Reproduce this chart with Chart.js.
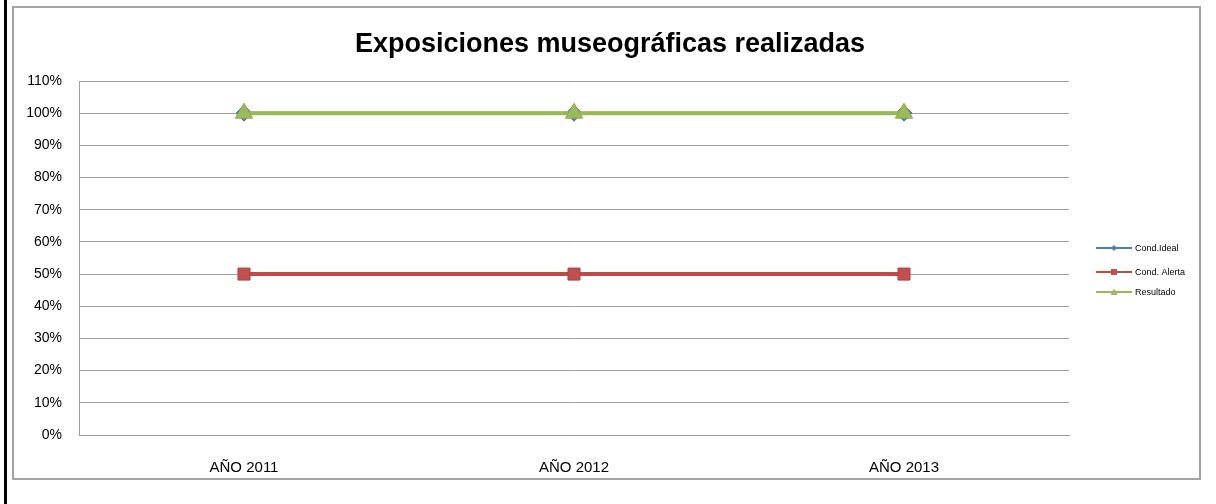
<!DOCTYPE html>
<html>
<head>
<meta charset="utf-8">
<script src="https://cdn.jsdelivr.net/npm/chart.js@4/dist/chart.umd.min.js"></script>
<style>
  html, body { margin: 0; padding: 0; background: #fff; }
  body { width: 1216px; height: 504px; position: relative; overflow: hidden; }
  #edge { position: absolute; left: 4px; top: 0; width: 3px; height: 504px; background: #000; }
  #frame {
    position: absolute; left: 12px; top: 6px; width: 1189px; height: 474px;
    box-sizing: border-box; border: 2px solid #a3a3a3; background: #fff;
  }
  #chart { display: block; }
</style>
</head>
<body>
<div id="edge"></div>
<div id="frame"><canvas id="chart" width="1185" height="470"></canvas></div>
<script>
// datos
const years = ["AÑO 2011", "AÑO 2012", "AÑO 2013"];
const condIdeal = [100, 100, 100];
const condAlerta = [50, 50, 50];
const resultado = [100, 100, 100];
const seriesNames = ["Cond.Ideal", "Cond. Alerta", "Resultado"];
const chartTitle = "Exposiciones museográficas realizadas";

const FONT = "'Liberation Sans', Arial, sans-serif";

// título y leyenda dibujados a mano, al estilo de Excel
const excelDecor = {
  id: "excelDecor",
  afterDraw(chart) {
    const ctx = chart.ctx;
    ctx.save();
    ctx.fillStyle = "#000";
    ctx.font = "bold 27px " + FONT;
    ctx.textAlign = "center";
    ctx.textBaseline = "middle";
    ctx.fillText(chartTitle, 596, 37);

    const rows = [240, 264, 284];
    ctx.font = "9px " + FONT;
    ctx.textAlign = "left";
    chart.data.datasets.forEach((ds, i) => {
      const y = rows[i];
      ctx.strokeStyle = ds.borderColor;
      ctx.lineWidth = 2;
      ctx.beginPath();
      ctx.moveTo(1082, y);
      ctx.lineTo(1118, y);
      ctx.stroke();
      ctx.fillStyle = ds.pointBackgroundColor;
      ctx.beginPath();
      drawMarker(ctx, ds.pointStyle, 1100, y);
      ctx.fill();
      ctx.fillStyle = "#000";
      ctx.fillText(ds.label, 1121, y + 1);
    });
    ctx.restore();
  },
};

function drawMarker(ctx, style, x, y) {
  if (style === "rect") {
    ctx.rect(x - 3, y - 3, 6, 6);
  } else if (style === "rectRot") {
    ctx.moveTo(x, y - 3); ctx.lineTo(x + 3, y);
    ctx.lineTo(x, y + 3); ctx.lineTo(x - 3, y); ctx.closePath();
  } else {
    ctx.moveTo(x, y - 3.5); ctx.lineTo(x + 3.5, y + 3);
    ctx.lineTo(x - 3.5, y + 3); ctx.closePath();
  }
}

new Chart(document.getElementById("chart"), {
  type: "line",
  data: {
    labels: years,
    datasets: [
      {
        label: seriesNames[0], data: condIdeal, order: 3,
        borderColor: "#4A7EBB", borderWidth: 3,
        pointStyle: "rectRot", pointRadius: 8, pointBorderWidth: 1,
        pointBackgroundColor: "#4A7EBB", pointBorderColor: "#3F6FA8",
      },
      {
        label: seriesNames[1], data: condAlerta, order: 2,
        borderColor: "#BE4B48", borderWidth: 4,
        pointStyle: "rect", pointRadius: 8.5, pointBorderWidth: 1,
        pointBackgroundColor: "#C0504D", pointBorderColor: "#B0413E",
      },
      {
        label: seriesNames[2], data: resultado, order: 1,
        borderColor: "#98B954", borderWidth: 4,
        pointStyle: "triangle", pointRadius: 10, pointBorderWidth: 1,
        pointBackgroundColor: "#9BBB59", pointBorderColor: "#8CAA4C",
      },
    ],
  },
  options: {
    responsive: false,
    animation: false,
    layout: { padding: { top: 73, right: 130, left: 0, bottom: 0 } },
    plugins: {
      legend: { display: false },
      title: { display: false },
      tooltip: { enabled: false },
    },
    scales: {
      x: {
        offset: true,
        grid: { display: false },
        border: { display: true, color: "#9a9a9a", width: 1 },
        ticks: { color: "#000", font: { family: FONT, size: 15 }, padding: 16, maxRotation: 0 },
        afterFit(scale) { scale.height = 43; },
      },
      y: {
        min: 0, max: 110,
        grid: { color: "#a0a0a0", lineWidth: 1, drawTicks: false },
        border: { display: true, color: "#9a9a9a", width: 1 },
        ticks: {
          stepSize: 10, color: "#000", padding: 17,
          font: { family: FONT, size: 14 },
          callback: (v) => v + "%",
        },
        afterFit(scale) { scale.width = 65; },
      },
    },
  },
  plugins: [excelDecor],
});
</script>
</body>
</html>
